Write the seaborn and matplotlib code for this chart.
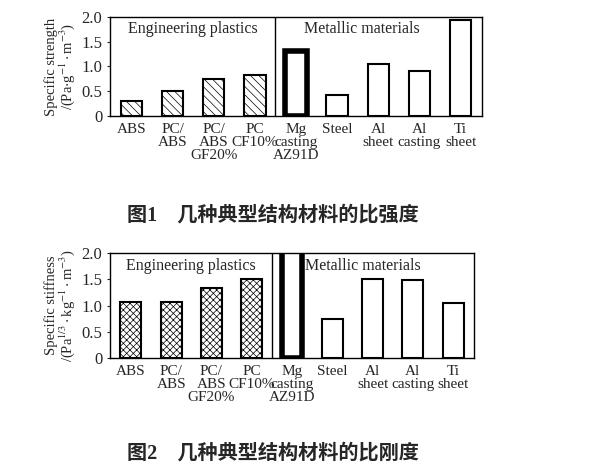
import matplotlib
matplotlib.use("Agg")
import matplotlib.pyplot as plt
import seaborn as sns
import pandas as pd

categories = ["ABS", "PC/\nABS", "PC/\nABS\nGF20%", "PC\nCF10%", "Mg\ncasting\nAZ91D",
              "Steel", "Al\nsheet", "Al\ncasting", "Ti\nsheet"]
strength = [0.30, 0.51, 0.74, 0.83, 1.31, 0.42, 1.05, 0.91, 1.94]
stiffness = [1.07, 1.07, 1.33, 1.51, 2.40, 0.74, 1.50, 1.49, 1.05]
group_labels = ["Engineering plastics", "Metallic materials"]
yticks = [0, 0.5, 1.0, 1.5, 2.0]
ytick_labels = ["0", "0.5", "1.0", "1.5", "2.0"]
ylabel1 = "Specific strength\n/(Pa$\\cdot$g$^{-1}\\cdot$m$^{-3}$)"
ylabel2 = "Specific stiffness\n/(Pa$^{1/3}\\cdot$kg$^{-1}\\cdot$m$^{-3}$)"
caption1 = "图1　几种典型结构材料的比强度"
caption2 = "图2　几种典型结构材料的比刚度"

sns.set_theme(style="white")
plt.rcParams["font.family"] = ["Liberation Serif", "Noto Sans CJK SC"]
plt.rcParams["mathtext.fontset"] = "stix"
plt.rcParams["hatch.linewidth"] = 0.5
plt.rcParams["hatch.color"] = "#666666"

fig = plt.figure(figsize=(6.0, 4.74), dpi=100)
ax1 = fig.add_axes([0.1833, 0.7553, 0.62, 0.2089])
ax2 = fig.add_axes([0.1833, 0.2447, 0.6067, 0.2215])


def draw(ax, values, ylabel, hatch, metal_x):
    df = pd.DataFrame({"cat": categories, "val": values})
    sns.barplot(data=df, x="cat", y="val", ax=ax, color="white", edgecolor="black",
                linewidth=1.5, width=0.52, saturation=1)
    for i, p in enumerate(ax.patches):
        p.set_facecolor("white")
        if i < 4:
            p.set_hatch(hatch)
        if i == 4:
            p.set_linewidth(4.0)
    ax.set_xlim(-0.52, 8.52)
    ax.set_ylim(0, 2.0)
    ax.set_yticks(yticks)
    ax.set_yticklabels(ytick_labels, fontsize=12)
    ax.set_xticks(range(len(categories)))
    ax.set_xticklabels(categories, fontsize=11, linespacing=0.98, va="top")
    ax.tick_params(axis="x", length=0, pad=5)
    ax.tick_params(axis="y", length=2.5, width=0.8, direction="out", left=True, pad=3)
    ax.set_xlabel("")
    ax.set_ylabel(ylabel, fontsize=10.5, linespacing=0.95, labelpad=3)
    ax.axvline(3.5, color="black", lw=1.0)
    for s in ax.spines.values():
        s.set_color("black")
        s.set_linewidth(1.0)
    ax.text(1.5, 1.76, group_labels[0], ha="center", va="center", fontsize=11.5)
    ax.text(metal_x, 1.76, group_labels[1], ha="center", va="center", fontsize=11.5)


draw(ax1, strength, ylabel1, "\\\\\\\\", 5.6)
draw(ax2, stiffness, ylabel2, "xxxxx", 5.75)

fig.text(0.212, 0.546, caption1, fontsize=14.5, fontweight="bold", va="center", ha="left")
fig.text(0.212, 0.044, caption2, fontsize=14.5, fontweight="bold", va="center", ha="left")

fig.savefig("out.png", dpi=100)
